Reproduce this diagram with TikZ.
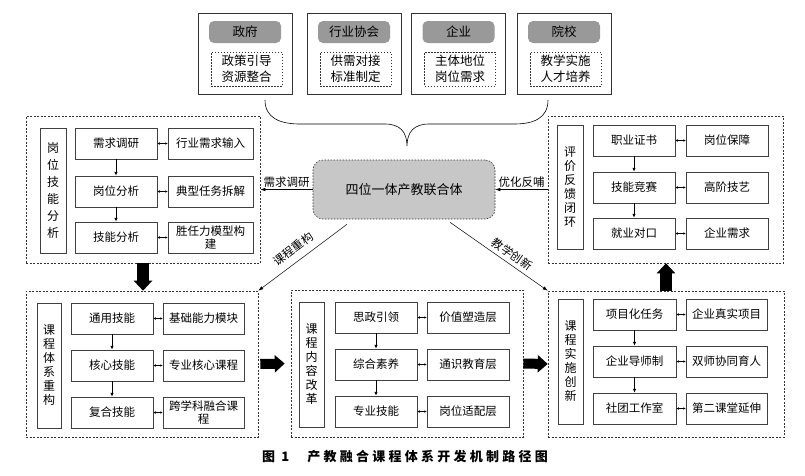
\documentclass[tikz,border=0pt]{standalone}
\usepackage{fontspec}
\setmainfont{Noto Sans CJK SC}
\usetikzlibrary{arrows.meta,calc}

\begin{document}
\begin{tikzpicture}[x = 1pt, y = -1pt,
    box/.style = {draw = black!75, line width = 0.5pt, inner sep = 0pt,
                  minimum width = 82pt, minimum height = 31pt, align = center,
                  font = \fontsize{11.5}{13}\selectfont},
    sidebox/.style = {draw = black!75, line width = 0.5pt, inner sep = 0pt,
                      minimum width = 25pt, minimum height = 125pt, align = center,
                      font = \fontsize{12}{14}\selectfont},
    frame/.style = {draw = black!80, line width = 0.6pt, dash pattern = on 2pt off 1.5pt,
                    inner sep = 0pt},
    partner/.style = {draw = black!80, line width = 0.6pt, inner sep = 0pt,
                      minimum width = 94pt, minimum height = 81pt},
    header/.style = {fill = black!40, rounded corners = 5pt, inner sep = 0pt,
                     minimum width = 72pt, minimum height = 22pt,
                     font = \fontsize{12.5}{14}\selectfont},
    duty/.style = {draw = black!80, line width = 0.5pt, dash pattern = on 1.5pt off 1.5pt,
                   inner sep = 0pt, minimum width = 71pt, minimum height = 34pt,
                   align = center, font = \fontsize{12.5}{16}\selectfont},
    down/.style = {draw, line width = 0.8pt, -{Latex[length = 4pt, width = 3.5pt]}},
    both/.style = {draw, line width = 0.5pt,
                   {Latex[length = 2.5pt, width = 2.5pt]}-{Latex[length = 2.5pt, width = 2.5pt]}},
    thin/.style = {draw, line width = 0.5pt, -{Latex[length = 5pt, width = 3.5pt]}},
    tag/.style = {font = \fontsize{11.5}{13}\selectfont, inner sep = 2pt},
    bigv/.style = {draw, line width = 12pt, -{Triangle[length = 10pt, width = 18pt]}},
    bigh/.style = {draw, line width = 10pt, -{Triangle[length = 10pt, width = 17pt]}}]

  \useasboundingbox (0, 0) rectangle (805, 475);

  % partners
  \node[partner] (gov)    at (245,   53.5) {};
  \node[partner] (assoc)  at (354,   53.5) {};
  \node[partner] (firm)   at (458.5, 53.5) {};
  \node[partner] (school) at (564,   53.5) {};
  \node[header] (govh)    at (245,   32) {政府};
  \node[header] (assoch)  at (354,   32) {行业协会};
  \node[header] (firmh)   at (458.5, 32) {企业};
  \node[header] (schoolh) at (564,   32) {院校};
  \node[duty] (govt)    at (246.5, 69) {政策引导\\资源整合};
  \node[duty] (assoct)  at (355.5, 69) {供需对接\\标准制定};
  \node[duty] (firmt)   at (460,   69) {主体地位\\岗位需求};
  \node[duty] (schoolt) at (565.5, 69) {教学实施\\人才培养};

  % brace
  \draw[line width = 0.6pt] (265, 100) .. controls (265, 118) and (280, 124) .. (300, 124)
    -- (385, 124) .. controls (400, 124) and (407, 132) .. (407, 146)
    .. controls (407, 132) and (414, 124) .. (429, 124)
    -- (514, 124) .. controls (534, 124) and (548, 118) .. (548, 100);

  % hub
  \node[draw = black!80, line width = 0.6pt, dash pattern = on 1.5pt off 1.5pt,
        fill = black!22, rounded corners = 10pt, minimum width = 182pt, minimum height = 59pt,
        font = \fontsize{13}{15}\selectfont] (hub) at (404, 189.5) {四位一体产教联合体};

  % frames
  \node[frame, minimum width = 234pt, minimum height = 147pt] (pos)  at (143,   189.5) {};
  \node[frame, minimum width = 235pt, minimum height = 147pt] (eval) at (665.5, 189.5) {};
  \node[frame, minimum width = 232pt, minimum height = 146pt] (crs)  at (142,   364) {};
  \node[frame, minimum width = 232pt, minimum height = 147pt] (cnt)  at (407,   363.5) {};
  \node[frame, minimum width = 236pt, minimum height = 146pt] (imp)  at (666,   364) {};

  % job skill analysis
  \node[sidebox, minimum width = 26pt, font = \fontsize{12}{17}\selectfont] (posl) at (53, 190.5)
    {岗\\位\\技\\能\\分\\析};
  \node[box] (posa1) at (116, 143.5) {需求调研};
  \node[box] (posa2) at (116, 191.5) {岗位分析};
  \node[box] (posa3) at (116, 237.5) {技能分析};
  \node[box, minimum width = 85pt] (posb1) at (210.5, 143.5) {行业需求输入};
  \node[box, minimum width = 85pt] (posb2) at (210.5, 191.5) {典型任务拆解};
  \node[box, minimum width = 85pt] (posb3) at (210.5, 237.5) {胜任力模型构\\建};

  % evaluation loop
  \node[sidebox, minimum width = 26pt, minimum height = 124pt] (evall) at (570, 187)
    {评\\价\\反\\馈\\闭\\环};
  \node[box] (evala1) at (634, 140.5) {职业证书};
  \node[box] (evala2) at (634, 187.5) {技能竞赛};
  \node[box] (evala3) at (634, 233.5) {就业对口};
  \node[box] (evalb1) at (727, 140.5) {岗位保障};
  \node[box] (evalb2) at (727, 187.5) {高阶技艺};
  \node[box] (evalb3) at (727, 233.5) {企业需求};

  % course system
  \node[sidebox, minimum width = 24pt] (crsl) at (49, 365.5) {课\\程\\体\\系\\重\\构};
  \node[box] (crsa1) at (112, 318.5) {通用技能};
  \node[box] (crsa2) at (112, 365.5) {核心技能};
  \node[box] (crsa3) at (112, 412.5) {复合技能};
  \node[box, minimum width = 81pt] (crsb1) at (203.5, 318.5) {基础能力模块};
  \node[box, minimum width = 81pt] (crsb2) at (203.5, 365.5) {专业核心课程};
  \node[box, minimum width = 81pt] (crsb3) at (203.5, 412.5) {跨学科融合课\\程};

  % course content
  \node[sidebox] (cntl) at (311.5, 364.5) {课\\程\\内\\容\\改\\革};
  \node[box] (cnta1) at (376, 317.5) {思政引领};
  \node[box] (cnta2) at (376, 364.5) {综合素养};
  \node[box] (cnta3) at (376, 411.5) {专业技能};
  \node[box] (cntb1) at (468, 317.5) {价值塑造层};
  \node[box] (cntb2) at (468, 364.5) {通识教育层};
  \node[box] (cntb3) at (468, 411.5) {岗位适配层};

  % course delivery
  \node[sidebox] (impl) at (570.5, 361.5) {课\\程\\实\\施\\创\\新};
  \node[box, minimum width = 83pt] (impa1) at (634.5, 314.5) {项目化任务};
  \node[box, minimum width = 83pt] (impa2) at (634.5, 361.5) {企业导师制};
  \node[box, minimum width = 83pt] (impa3) at (634.5, 408.5) {社团工作室};
  \node[box, minimum width = 81pt] (impb1) at (726.5, 314.5) {企业真实项目};
  \node[box, minimum width = 81pt] (impb2) at (726.5, 361.5) {双师协同育人};
  \node[box, minimum width = 81pt] (impb3) at (726.5, 408.5) {第二课堂延伸};

  % links inside frames
  \foreach \g in {pos, eval, crs, cnt, imp} {
    \draw[down] (\g a1) -- (\g a2);
    \draw[down] (\g a2) -- (\g a3);
    \draw[both] (\g a1) -- (\g b1);
    \draw[both] (\g a2) -- (\g b2);
    \draw[both] (\g a3) -- (\g b3);
  }

  % hub links
  \draw[thin] (hub.west) -- node[tag, above] {需求调研} (pos.east);
  \draw[thin] (eval.west) -- node[tag, above] {优化反哺} (hub.east);
  \draw[thin] ($(hub.south) + (-57, 5)$) -- node[tag, pos = 0.52, sloped, above = 5pt] {课程重构} (crs.north east);
  \draw[thin] ($(hub.south) + (46, 3)$) -- node[tag, pos = 0.58, sloped, above = 2pt] {教学创新} (imp.north west);

  % block arrows
  \draw[bigv] (pos.south) -- (pos.south |- crs.north);
  \draw[bigh, shorten <= 2pt, shorten >= 6pt] (crs.east) -- (cnt.west);
  \draw[bigh] (cnt.east) -- (imp.west);
  \draw[bigv] (imp.north) -- (imp.north |- eval.south);

  % caption
  \node[font = \fontsize{13}{15}\selectfont\bfseries] (cap) at (405, 457)
    {\addfontfeature{LetterSpace = 25}图 1\hspace{18pt}产教融合课程体系开发机制路径图};
\end{tikzpicture}
\end{document}
